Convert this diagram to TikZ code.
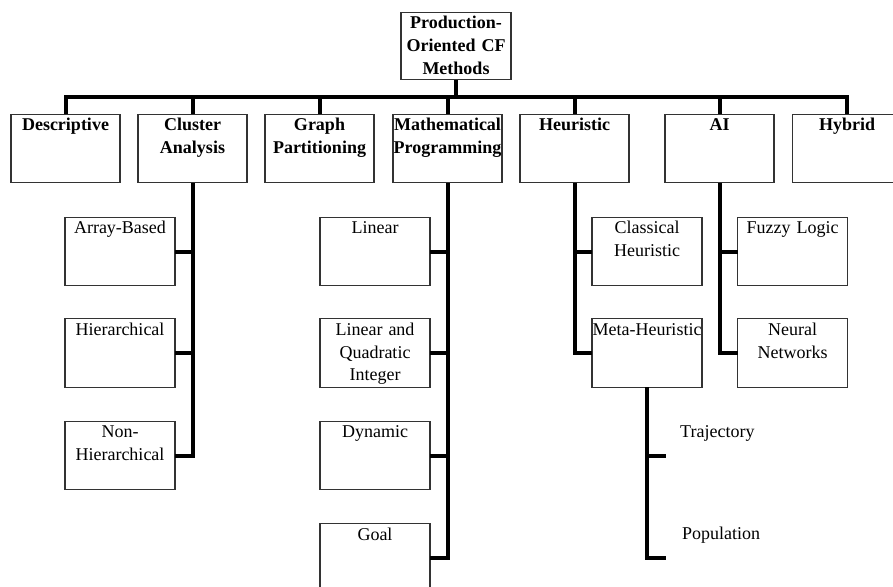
\documentclass[tikz,border=0pt]{standalone}
\usepackage{fontspec}
\setmainfont{Liberation Serif}
\begin{document}
\begin{tikzpicture}[x=1pt,y=-1pt,
  box/.style={draw=black!80, line width=1.1pt, inner sep=0pt, outer sep=0pt,
    align=center, text width=110pt, text height=16.8pt, text depth=52pt,
    font=\fontsize{18}{22.6}\selectfont},
  head/.style={box, text width=109pt, font=\bfseries\fontsize{18}{22.6}\selectfont},
  leaf/.style={inner sep=0pt, anchor=base west, font=\fontsize{18}{22.6}\selectfont},
  conn/.style={line width=4pt, line join=miter, black}]
\useasboundingbox (0,0) rectangle (893,586);

% root
\node[head, text width=110pt, text depth=51pt] (root) at (456,46) {Production-\\Oriented CF\\Methods};

% first level
\node[head] (desc) at (65.5,148.5)  {Descriptive};
\node[head] (clu)  at (192.5,148.5) {Cluster\\Analysis};
\node[head] (gra)  at (319.5,148.5) {Graph\\Partitioning};
\node[head] (math) at (447.5,148.5) {Mathematical\\Programming};
\node[head] (heu)  at (574.5,148.5) {Heuristic};
\node[head] (ai)   at (719.5,148.5) {AI};
\node[head] (hyb)  at (847,148.5)   {Hybrid};

% cluster analysis
\node[box] (arr) at (120,251.5) {Array-Based};
\node[box] (hie) at (120,353)   {Hierarchical};
\node[box] (nhi) at (120,455.5) {Non-\\Hierarchical};

% mathematical programming
\node[box] (lin) at (375,251.5) {Linear};
\node[box] (lqi) at (375,353)   {Linear and\\Quadratic\\Integer};
\node[box] (dyn) at (375,455.5) {Dynamic};
\node[box] (goa) at (375,558)   {Goal};

% heuristic
\node[box] (cla) at (647,251.5) {Classical\\Heuristic};
\node[box] (met) at (647,353)   {Meta-Heuristic};

% AI
\node[box] (fuz) at (792.5,251.5) {Fuzzy Logic};
\node[box] (neu) at (792.5,353)   {Neural\\Networks};

% meta-heuristic families
\node[leaf] (tra) at (680,437) {Trajectory};
\node[leaf] (pop) at (682,539) {Population};
\coordinate (bus) at (0,97);
\coordinate (t1) at (666,456);
\coordinate (t2) at (666,558);

% connectors
\draw[conn] (root.south) -- (root.south |- bus);
\draw[conn] (desc.north) -- (desc.north |- bus) -- (hyb.north |- bus) -- (hyb.north);
\foreach \n in {clu,gra,math,heu,ai}
  \draw[conn] (\n.north) -- (\n.north |- bus);

\draw[conn] (clu.south) -- (clu.south |- nhi.east) -- (nhi.east);
\foreach \n in {arr,hie}
  \draw[conn] (\n.east) -- (\n.east -| clu.south);

\draw[conn] (math.south) -- (math.south |- goa.east) -- (goa.east);
\foreach \n in {lin,lqi,dyn}
  \draw[conn] (\n.east) -- (\n.east -| math.south);

\draw[conn] (heu.south) -- (heu.south |- met.west) -- (met.west);
\draw[conn] (cla.west) -- (cla.west -| heu.south);

\draw[conn] (ai.south) -- (ai.south |- neu.west) -- (neu.west);
\draw[conn] (fuz.west) -- (fuz.west -| ai.south);

\draw[conn] (met.south) -- (met.south |- t2) -- (t2);
\draw[conn] (met.south |- t1) -- (t1);
\end{tikzpicture}
\end{document}
